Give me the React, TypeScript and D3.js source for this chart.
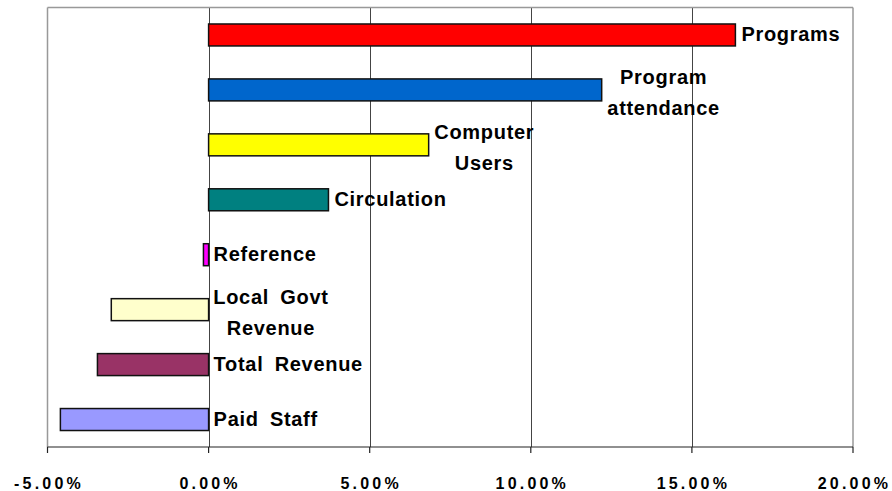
import React from "react";
import * as d3 from "d3";

const categories = [
  "Programs",
  "Program attendance",
  "Computer Users",
  "Circulation",
  "Reference",
  "Local Govt Revenue",
  "Total Revenue",
  "Paid Staff",
];
const labelLines = [
  ["Programs"],
  ["Program", "attendance"],
  ["Computer", "Users"],
  ["Circulation"],
  ["Reference"],
  ["Local Govt", "Revenue"],
  ["Total Revenue"],
  ["Paid Staff"],
];
const values = [16.35, 12.2, 6.83, 3.72, -0.16, -3.02, -3.45, -4.6];
const colors = ["#FF0000", "#0066CC", "#FFFF00", "#008080", "#FF00FF", "#FFFFCC", "#993366", "#9999FF"];
const tickValues = [-5, 0, 5, 10, 15, 20];
const gridValues = [0, 5, 10, 15];

const W = 892;
const H = 491;
const M = { left: 47.5, right: 853, top: 7.5, bottom: 447 };

const font = "'Liberation Sans', Arial, sans-serif";
const LABEL_SIZE = 20;
const LABEL_LS = 0.7;
const LABEL_WS = 5;

let ctx: CanvasRenderingContext2D | null = null;
function measure(s: string): number {
  if (!ctx && typeof document !== "undefined") {
    ctx = document.createElement("canvas").getContext("2d");
  }
  if (!ctx) return s.length * 11;
  ctx.font = `bold ${LABEL_SIZE}px 'Liberation Sans'`;
  const spaces = (s.match(/ /g) || []).length;
  return ctx.measureText(s).width + LABEL_LS * (s.length - 1) + LABEL_WS * spaces;
}

export default function App() {
  const x = d3.scaleLinear().domain([-5, 20]).range([M.left, M.right]);
  const y = d3
    .scaleBand<string>()
    .domain(categories)
    .range([M.top, M.bottom])
    .paddingInner(0.6)
    .paddingOuter(0.3);
  const fmt = (v: number) => (v < 0 ? "-" : "") + d3.format(".2f")(Math.abs(v)) + "%";

  return (
    <svg
      width={W}
      height={H}
      style={{ position: "absolute", left: 0, top: 0, background: "#fff" }}
    >
      <rect x={0} y={0} width={W} height={H} fill="#fff" />
      {gridValues.map((g) => (
        <line
          key={g}
          x1={Math.round(x(g)) + 0.5}
          x2={Math.round(x(g)) + 0.5}
          y1={M.top}
          y2={M.bottom}
          stroke="#444"
          strokeWidth={1}
        />
      ))}
      <line x1={M.left} x2={M.right} y1={M.top} y2={M.top} stroke="#999" strokeWidth={1.5} />
      <line x1={M.left} x2={M.left} y1={M.top} y2={M.bottom} stroke="#999" strokeWidth={1.5} />
      <line x1={M.right} x2={M.right} y1={M.top} y2={M.bottom} stroke="#999" strokeWidth={1.5} />
      {categories.map((c, i) => {
        const v = values[i];
        const x0 = x(Math.min(0, v));
        const x1 = x(Math.max(0, v));
        return (
          <rect
            key={c}
            x={x0}
            y={y(c)}
            width={x1 - x0}
            height={y.bandwidth()}
            fill={colors[i]}
            stroke="#111"
            strokeWidth={1.5}
          />
        );
      })}
      {categories.map((c, i) => {
        const v = values[i];
        const cy = (y(c) as number) + y.bandwidth() / 2;
        const start = x(Math.max(0, v)) + (v < 0 ? 5 : 6);
        const lines = labelLines[i];
        const common = {
          fontFamily: font,
          fontWeight: "bold" as const,
          fontSize: LABEL_SIZE,
          letterSpacing: LABEL_LS,
          wordSpacing: LABEL_WS,
          fill: "#000",
        };
        if (lines.length === 1) {
          return (
            <text key={c} x={start} y={cy + 6.5} {...common}>
              {lines[0]}
            </text>
          );
        }
        const maxW = Math.max(...lines.map(measure));
        const cx = start + maxW / 2;
        return (
          <text key={c} x={cx} y={cy - 6} textAnchor="middle" {...common}>
            {lines.map((l, k) => (
              <tspan key={k} x={cx} dy={k === 0 ? 0 : 31}>
                {l}
              </tspan>
            ))}
          </text>
        );
      })}
      <line x1={M.left} x2={M.right} y1={M.bottom} y2={M.bottom} stroke="#222" strokeWidth={1.2} />
      {tickValues.map((t) => (
        <g key={t}>
          <line
            x1={x(t)}
            x2={x(t)}
            y1={M.bottom}
            y2={M.bottom + 6}
            stroke="#222"
            strokeWidth={1.2}
          />
          <text
            x={x(t) + 1.5}
            y={488.5}
            textAnchor="middle"
            fontFamily={font}
            fontWeight="bold"
            fontSize={16}
            letterSpacing={3.2}
            fill="#000"
          >
            {fmt(t)}
          </text>
        </g>
      ))}
    </svg>
  );
}
